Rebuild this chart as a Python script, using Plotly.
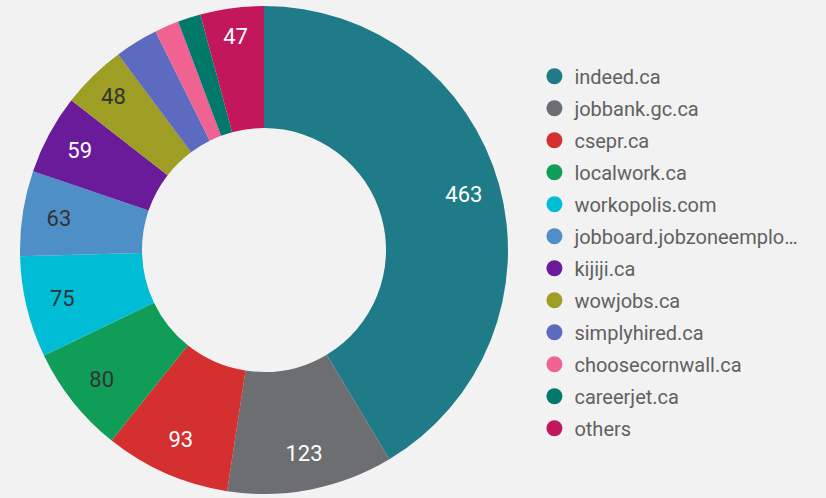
import plotly.graph_objects as go

labels = ["indeed.ca", "jobbank.gc.ca", "csepr.ca", "localwork.ca", "workopolis.com",
          "jobboard.jobzoneemplo…", "kijiji.ca", "wowjobs.ca", "simplyhired.ca",
          "choosecornwall.ca", "careerjet.ca", "others"]
values = [463, 123, 93, 80, 75, 63, 59, 48, 32, 18, 17, 47]
colors = ["#1e7b87", "#6d6e71", "#d3302f", "#0f9d58", "#00bcd4", "#4e8fc7",
          "#6a1b9a", "#9e9d24", "#5c6bc0", "#f06292", "#00796b", "#c2185b"]
text_colors = ["#ffffff", "#ffffff", "#ffffff", "#333333", "#333333", "#333333",
               "#ffffff", "#333333", "#ffffff", "#ffffff", "#ffffff", "#ffffff"]
show_text = [True, True, True, True, True, True, True, True, False, False, False, True]

texts = [str(v) if s else "" for v, s in zip(values, show_text)]
domain = dict(x=[20/826, 508/826], y=[1-494/498, 1-6/498])

fig = go.Figure()
# coloured ring
fig.add_trace(go.Pie(
    labels=labels, values=values, textinfo="none",
    sort=False, direction="clockwise", rotation=0, hole=0.5,
    marker=dict(colors=colors, line=dict(color="#f2f2f2", width=0)),
    showlegend=False, hoverinfo="label+value", domain=domain,
))
# label ring (transparent), places value labels toward the outer edge
fig.add_trace(go.Pie(
    labels=labels, values=values, text=texts, textinfo="text",
    texttemplate="%{text}", textposition="inside", insidetextorientation="horizontal",
    sort=False, direction="clockwise", rotation=0, hole=0.7,
    marker=dict(colors=["rgba(0,0,0,0)"] * len(values), line=dict(width=0)),
    textfont=dict(color=text_colors, size=22, family="Roboto"),
    showlegend=False, hoverinfo="skip", domain=domain,
))
for lab, col in zip(labels, colors):
    fig.add_trace(go.Scatter(
        x=[None], y=[None], mode="markers", name=lab, legendgroup=lab,
        marker=dict(color=col, size=19, symbol="circle"),
    ))

fig.update_layout(
    width=826, height=498, margin=dict(l=0, r=0, t=0, b=0),
    paper_bgcolor="#f2f2f2", plot_bgcolor="#f2f2f2",
    xaxis=dict(visible=False), yaxis=dict(visible=False),
    legend=dict(x=0.647, y=0.886, xanchor="left", yanchor="top",
                font=dict(size=20, color="#616161", family="Roboto"),
                itemsizing="trace", bgcolor="rgba(0,0,0,0)", tracegroupgap=3),
    font=dict(family="Roboto"),
)
fig.write_html("out.html", config={"displayModeBar": False},
               post_script="document.body.style.margin='0';document.body.style.background='#f2f2f2';")
